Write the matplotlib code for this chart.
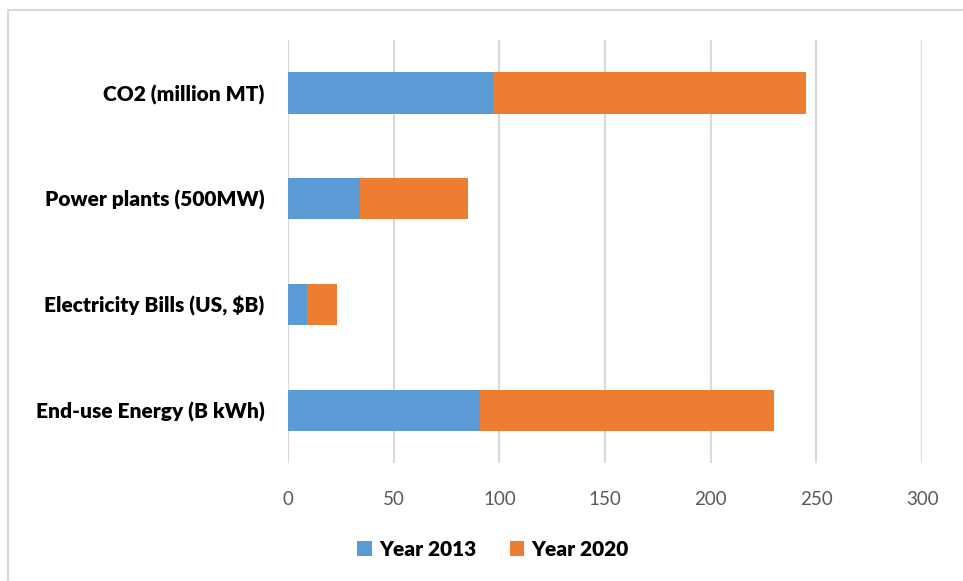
import matplotlib
matplotlib.use('Agg')
from matplotlib import pyplot as plt
from matplotlib.lines import Line2D

plt.rcParams['font.family'] = ['Lato', 'DejaVu Sans']

categories = ['End-use Energy (B kWh)', 'Electricity Bills (US, $B)',
              'Power plants (500MW)', 'CO2 (million MT)']
year_2013 = [91, 9, 34, 97]
year_2020 = [139, 14, 51, 148]
x_ticks = [0, 50, 100, 150, 200, 250, 300]

blue = '#5B9BD5'
orange = '#ED7D31'
grid_color = '#D9D9D9'

fig = plt.figure(figsize=(9.63, 5.81), dpi=100)
ax = fig.add_axes([0.299, 0.203, 0.6585, 0.728])

pos = range(len(categories))
ax.barh(pos, year_2013, height=0.39, color=blue, label='Year 2013', zorder=3)
ax.barh(pos, year_2020, left=year_2013, height=0.39, color=orange, label='Year 2020', zorder=3)

ax.set_xlim(0, 300)
ax.set_ylim(-0.5, 3.5)
ax.set_xticks(x_ticks)
ax.set_yticks(list(pos))
ax.set_yticklabels(categories, fontsize=15, fontweight='heavy', color='black')
ax.tick_params(axis='x', colors='#595959', labelsize=13.5, length=0, pad=20)
ax.tick_params(axis='y', length=0, pad=17)
ax.grid(axis='x', color=grid_color, linewidth=1.5, zorder=0)
for s in ax.spines.values():
    s.set_visible(False)

leg = fig.legend(loc='center', bbox_to_anchor=(0.512, 0.055), ncol=2, frameon=False,
                 handlelength=0.7, handleheight=0.7, handletextpad=0.35, columnspacing=1.6,
                 prop={'size': 15, 'weight': 'heavy'})

# outer chart border (cropped on right and bottom)
fig.add_artist(Line2D([8 / 963, 1], [1 - 10 / 581, 1 - 10 / 581], color=grid_color, linewidth=1.5))
fig.add_artist(Line2D([8 / 963, 8 / 963], [0, 1 - 10 / 581], color=grid_color, linewidth=1.5))

fig.savefig('out.png', dpi=100)
